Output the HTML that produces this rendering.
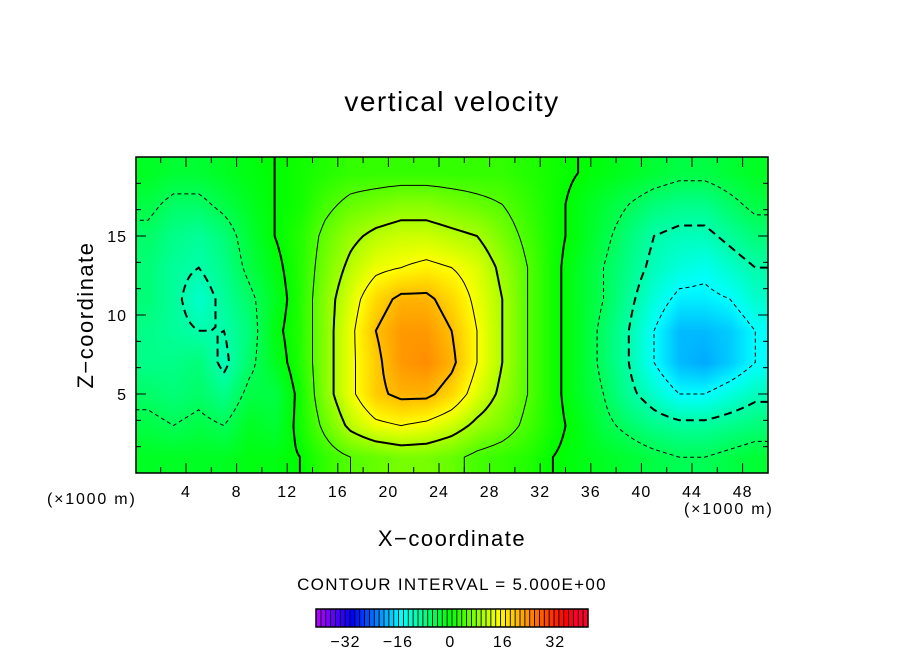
<!DOCTYPE html>
<html><head><meta charset="utf-8"><style>
html,body{margin:0;padding:0;background:#fff;}
#wrap{position:relative;width:904px;height:654px;overflow:hidden;font-family:"Liberation Sans",sans-serif;}
.t{position:absolute;white-space:nowrap;color:#000;}
canvas{position:absolute;}
</style></head><body>
<div id="wrap">
<div class="t" style="left:0;width:904px;text-align:center;top:86px;font-size:28px;letter-spacing:1.5px;">vertical velocity</div>
<canvas id="field" width="632" height="316" style="left:136px;top:157px;"></canvas>
<svg id="svg" width="904" height="654" style="position:absolute;left:0;top:0;"></svg>
<div class="t" style="left:86px;top:315px;font-size:22px;transform:translate(-50%,-50%) rotate(-90deg);letter-spacing:1.5px;">Z−coordinate</div>
<div class="t" style="left:0;width:904px;text-align:center;top:526px;font-size:22px;letter-spacing:1.5px;">X−coordinate</div>
<div class="t" style="left:47px;top:491px;font-size:16px;letter-spacing:1.8px;">(×1000 m)</div>
<div class="t" style="left:684px;top:501px;font-size:16px;letter-spacing:1.8px;">(×1000 m)</div>
<div class="t" style="left:0;width:904px;text-align:center;top:575px;font-size:17px;letter-spacing:1.3px;">CONTOUR INTERVAL = 5.000E+00</div>
</div>
<script>
const xCenters=[1,3,5,7,9,11,13,15,17,19,21,23,25,27,29,31,33,35,37,39,41,43,45,47,49];
const zRows=[19,17,15,13,11,9,7,5,3,1];
const w19=[-2,-3,-3,-2,-1,0,1,2,3,3,3,3,3,3,3,2,1,0,-1,-2,-3,-4,-4,-3,-2];
const w17=[-4,-6,-6,-4,-2,0,1,4,6,7,8,8,7,6,5,3,1,-1,-3,-5,-7,-8,-8,-6,-4];
const w15=[-6,-8,-9,-7,-3,0,2,6,9,11,12,12,11,10,7,4,1,-1,-4,-7,-10,-11,-11,-9,-7];
const w13=[-7,-9,-10,-8,-4,-1,2,7,11,14,15,16,15,13,9,5,1,-2,-5,-8,-11,-13,-14,-12,-10];
const w11=[-7,-9,-12,-9,-6,-2,2,8,13,18,21,21,18,14,10,5,1,-2,-5,-9,-13,-16,-16,-15,-12];
const w9=[-8,-9,-10,-10,-7,-1,2,8,14,20,23,23,20,15,10,5,1,-2,-6,-10,-15,-19,-19,-18,-15];
const w7=[-8,-8,-7,-11,-6,-2,2,8,14,19,23,24,21,15,10,5,1,-2,-6,-10,-15,-19,-20,-18,-15];
const w5=[-6,-7,-6,-8,-4,-4,1,8,14,19,21,21,18,13,9,5,1,-2,-5,-9,-12,-15,-15,-13,-11];
const w3=[-4,-5,-4,-5,-2,-3,1,6,11,14,15,14,12,9,7,4,1,-1,-4,-6,-8,-9,-9,-8,-7];
const w1=[-2,-2,-2,-2,-1,-1,0,3,5,6,7,7,6,4,3,2,0,-1,-2,-3,-4,-5,-5,-4,-3];
const grid=[w19,w17,w15,w13,w11,w9,w7,w5,w3,w1];
const xTicks=[4,8,12,16,20,24,28,32,36,40,44,48];
const zTicks=[5,10,15];
const cbTicks=[-32,-16,0,16,32];
const levels=[-20,-15,-10,-5,0,5,10,15,20];

const X0=135.4,XS=12.65,Z0=473,ZS=15.8;
const sx=x=>X0+x*XS, sz=z=>Z0-z*ZS;
function hue(v){let h=v<0?120-4*v:(v<15?120-4*v:60-3*(v-15));return Math.max(Math.min(h,285),-10);}
function hsl2rgb(h){h=(h+360)%360;const f=n=>{const k=(n+h/30)%12;return 255*(0.5-0.5*Math.max(-1,Math.min(k-3,9-k,1)));};return [f(0),f(8),f(4)];}
function color(v){const c=hsl2rgb(hue(v));return 'rgb('+c.map(Math.round).join(',')+')';}
function sample(x,z){
 let fi=(x-1)/2, fj=(19-z)/2;
 fi=Math.max(0,Math.min(xCenters.length-1,fi)); fj=Math.max(0,Math.min(zRows.length-1,fj));
 const i0=Math.min(Math.floor(fi),xCenters.length-2), j0=Math.min(Math.floor(fj),zRows.length-2);
 const a=fi-i0,b=fj-j0;
 return (grid[j0][i0]*(1-a)+grid[j0][i0+1]*a)*(1-b)+(grid[j0+1][i0]*(1-a)+grid[j0+1][i0+1]*a)*b;
}
const cv=document.getElementById('field'),ctx=cv.getContext('2d');
const img=ctx.createImageData(632,316);
for(let py=0;py<316;py++)for(let px=0;px<632;px++){
 const x=(px+136-X0)/XS, z=(Z0-(py+157))/ZS;
 const c=hsl2rgb(hue(sample(x,z)));const k=(py*632+px)*4;
 img.data[k]=c[0];img.data[k+1]=c[1];img.data[k+2]=c[2];img.data[k+3]=255;}
ctx.putImageData(img,0,0);

const NS='http://www.w3.org/2000/svg',svg=document.getElementById('svg');
function mk(t,a){const e=document.createElementNS(NS,t);for(const k in a)e.setAttribute(k,a[k]);svg.appendChild(e);return e;}
const NX=101,NZ=81;
const F=[];for(let j=0;j<NZ;j++){F[j]=[];for(let i=0;i<NX;i++)F[j][i]=sample(i*50/(NX-1),j*20/(NZ-1));}
function key(p){return p[0].toFixed(4)+','+p[1].toFixed(4);}
levels.forEach(L=>{
 const segs=[];
 for(let j=0;j<NZ-1;j++)for(let i=0;i<NX-1;i++){
  const v=[F[j][i],F[j][i+1],F[j+1][i+1],F[j+1][i]];
  const P=[[i,j],[i+1,j],[i+1,j+1],[i,j+1]];const pts=[];
  for(let e=0;e<4;e++){const a=v[e],b=v[(e+1)%4];if((a<L)!==(b<L)){const t=(L-a)/(b-a);const p=P[e],q=P[(e+1)%4];pts.push([p[0]+t*(q[0]-p[0]),p[1]+t*(q[1]-p[1])]);}}
  for(let k=0;k+1<pts.length;k+=2)segs.push([pts[k],pts[k+1]]);
 }
 const map={};segs.forEach((s,idx)=>{[0,1].forEach(e=>{const k=key(s[e]);(map[k]=map[k]||[]).push(idx);});});
 const used=new Array(segs.length).fill(false);let d='';
 const tp=p=>sx(p[0]*50/(NX-1)).toFixed(1)+' '+sz(p[1]*20/(NZ-1)).toFixed(1);
 function extend(line){
  while(true){const end=line[line.length-1];const c=(map[key(end)]||[]).find(i=>!used[i]);if(c===undefined)break;used[c]=true;
   const s=segs[c];line.push(key(s[0])===key(end)?s[1]:s[0]);}
 }
 for(let i=0;i<segs.length;i++){if(used[i])continue;used[i]=true;
  let line=[segs[i][0],segs[i][1]];extend(line);line.reverse();extend(line);
  d+='M'+line.map(tp).join('L');}
 const thick=(L%10===0);
 const p=mk('path',{d:d,fill:'none',stroke:'#000','stroke-width':thick?2:1,'stroke-dasharray':L<0?(thick?'8,5':'4,3'):'none'});
 
 
});
const frame=mk('rect',{x:136,y:157,width:632,height:316,fill:'none',stroke:'#000','stroke-width':1.5});


for(let x=2;x<50;x+=2){mk('line',{x1:sx(x),x2:sx(x),y1:473,y2:x%4?467:463,stroke:'#000'});mk('line',{x1:sx(x),x2:sx(x),y1:157,y2:x%4?163:167,stroke:'#000'});}
for(let z=5/3;z<20;z+=5/3){const maj=Math.abs(z/5-Math.round(z/5))<0.01;mk('line',{x1:136,x2:maj?146:141,y1:sz(z),y2:sz(z),stroke:'#000'});mk('line',{x1:768,x2:maj?758:763,y1:sz(z),y2:sz(z),stroke:'#000'});}
xTicks.forEach(x=>{const t=mk('text',{x:sx(x),y:497,'text-anchor':'middle','font-size':16,'font-family':'Liberation Sans','letter-spacing':1});t.textContent=x;
 
 });
zTicks.forEach(z=>{const t=mk('text',{x:127,y:sz(z)+6,'text-anchor':'end','font-size':16,'font-family':'Liberation Sans','letter-spacing':1});t.textContent=z;
 
 });
const cb0=316,cbW=272,vmin=-41,vmax=42,nb=56,cx=v=>cb0+(v-vmin)/(vmax-vmin)*cbW;
for(let b=0;b<nb;b++){const v=vmin+(b+0.5)*(vmax-vmin)/nb;const x=cb0+b*cbW/nb;
 mk('rect',{x:x,y:609,width:cbW/nb,height:18,fill:color(v)});
 mk('line',{x1:x,x2:x,y1:609,y2:627,stroke:'#000','stroke-width':0.9});}
const cbf=mk('rect',{x:cb0,y:609,width:cbW,height:18,fill:'none',stroke:'#000','stroke-width':1.5});


cbTicks.forEach(v=>{const t=mk('text',{x:cx(v),y:647,'text-anchor':'middle','font-size':16,'font-family':'Liberation Sans','letter-spacing':1});t.textContent=v<0?'−'+(-v):v;
 
 });
</script>
</body></html>
